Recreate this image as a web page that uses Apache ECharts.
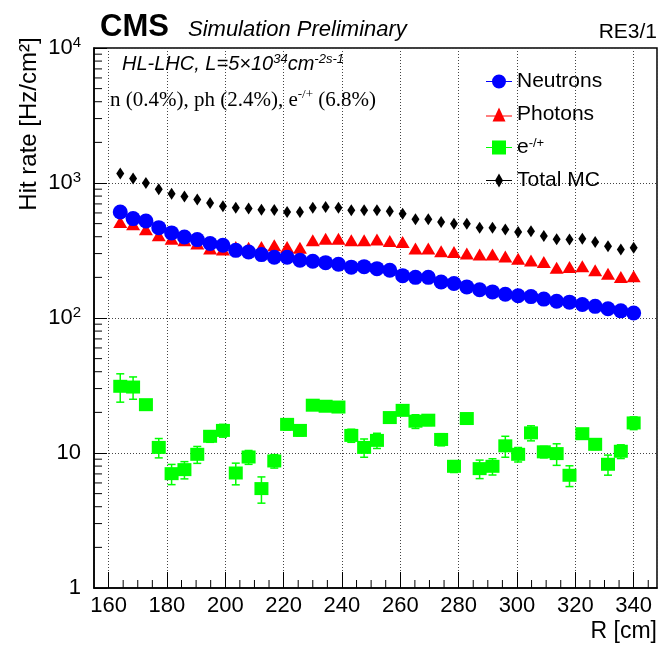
<!DOCTYPE html>
<html><head><meta charset="utf-8">
<script src="https://cdn.jsdelivr.net/npm/echarts@6/dist/echarts.min.js"></script>
<style>html,body{margin:0;padding:0;background:#fff}#c{width:660px;height:647px}</style>
</head><body><div id="c"></div><script>
// ---- data ----
const radiusCm = [164.0,168.4,172.8,177.2,181.6,186.0,190.4,194.8,199.2,203.6,208.0,212.4,216.8,221.2,225.6,230.0,234.4,238.8,243.2,247.6,252.0,256.4,260.8,265.2,269.6,274.0,278.4,282.8,287.2,291.6,296.0,300.4,304.8,309.2,313.6,318.0,322.4,326.8,331.2,335.6,340.0];
const neutrons = [610,545,523,467,427,398,381,356,346,317,308,295,282,282,268,263,257,250,238,240,232,226,206,200,200,185,180,170,162,156,150,146,144,138,133,131,126,122,117,113,109];
const photons  = [514,494,454,410,387,376,356,327,321,336,332,336,346,336,332,376,387,387,376,376,381,372,365,327,327,312,308,300,295,295,286,275,267,260,236,239,242,226,213,201,204];
const electrons = [31.2,30.8,22.8,11.0,7.03,7.53,9.78,13.3,14.7,7.11,9.34,5.45,8.73,16.3,14.7,22.6,22.2,21.9,13.5,11.0,12.4,18.3,20.7,17.2,17.5,12.6,7.97,18.0,7.66,7.97,11.3,9.78,14.1,10.2,9.9,6.84,13.9,11.6,8.25,10.3,16.7];
const electronErr = [7.4,5.8,2.0,1.8,1.2,1.1,1.4,1.3,1.6,1.3,1.1,1.2,1.0,1.5,1.3,1.8,1.8,1.8,1.5,1.7,1.6,1.5,1.7,2.0,1.5,1.3,0.8,1.5,1.2,1.1,2.0,1.2,1.8,1.0,1.8,1.2,1.2,1.0,1.4,1.2,1.8];
const totalMC = [1175,1078,1000,898,834,796,756,711,672,657,646,635,632,610,610,657,664,657,628,628,628,617,593,538,538,514,500,500,467,467,452,434,439,405,383,381,387,365,340,321,332];
const seriesNames = ['Neutrons','Photons','e-/+','Total MC'];
const xMajorTicks = [160,180,200,220,240,260,280,300,320,340];
const yDecadeLabels = ['1','10','10²','10³','10⁴'];

const X_MIN = 155, X_MAX = 348, Y_MIN = 1, Y_MAX = 10000;
const FONT = '"Liberation Sans", Arial, Helvetica, sans-serif';
const SERIF = '"Liberation Serif", "Times New Roman", serif';

// minor tick positions (style only)
const xMinor = [];
for (let v = 160; v <= 345; v += 5) if (v % 20 !== 0) xMinor.push(v);
const yMinor = [];
for (let d = 1; d <= 1000; d *= 10) for (let m = 2; m <= 9; m++) yMinor.push(m * d);
const tickData = xMinor.map(v => [v, Y_MIN, 0]).concat(yMinor.map(v => [X_MIN, v, 1]));

const chart = echarts.init(document.getElementById('c'), null, {renderer: 'canvas'});

const legendIcons = {
  'Neutrons': 'path://M0,6.5H26V7.5H0Z M13,0A7,7,0,1,1,12.99,0Z',
  'Photons': 'path://M0,8H26V9H0Z M13,0L19.5,14H6.5Z',
  'e-/+': 'path://M0,6.5H26V7.5H0Z M6,0H20V14H6Z',
  'Total MC': 'path://M0,6.5H26V7.5H0Z M13,0L17,7L13,14L9,7Z'
};

chart.setOption({
  animation: false,
  backgroundColor: '#fff',
  grid: {left: 94, right: 3, top: 48, bottom: 59, show: true, borderColor: '#000', borderWidth: 1.5, containLabel: false},
  xAxis: {
    type: 'value', min: X_MIN, max: X_MAX, splitNumber: 10,
    axisLine: {show: true, lineStyle: {color: '#000', width: 1.5}},
    axisTick: {show: true, inside: true, length: 16, lineStyle: {color: '#000', width: 1}},
    splitLine: {show: true, lineStyle: {type: [1, 2], color: '#444', width: 1}},
    axisLabel: {
      showMinLabel: false, showMaxLabel: false, color: '#000', fontFamily: FONT, fontSize: 22, margin: 7,
      formatter: v => (xMajorTicks.indexOf(Math.round(v)) >= 0 ? String(Math.round(v)) : '')
    }
  },
  yAxis: {
    type: 'log', logBase: 10, min: Y_MIN, max: Y_MAX,
    axisLine: {show: true, lineStyle: {color: '#000', width: 1.5}},
    axisTick: {show: true, inside: true, length: 13, lineStyle: {color: '#000', width: 1}},
    splitLine: {show: true, lineStyle: {type: [1, 2], color: '#444', width: 1}},
    axisLabel: {
      margin: 13, color: '#000',
      formatter: v => {
        const e = Math.round(Math.log10(v));
        if (e === 0) return '{b|' + yDecadeLabels[0] + '}';
        if (e === 1) return '{b|' + yDecadeLabels[1] + '}';
        return '{b|10}{s|' + e + '}';
      },
      rich: {
        b: {fontFamily: FONT, fontSize: 22, color: '#000', lineHeight: 26},
        s: {fontFamily: FONT, fontSize: 15, color: '#000', verticalAlign: 'top', lineHeight: 15}
      }
    }
  },
  legend: {
    orient: 'vertical', left: 486, top: 71, padding: 0, itemWidth: 26, itemHeight: 14, itemGap: 12, itemTextGap: 5,
    selectedMode: false,
    data: seriesNames.map(n => ({name: n, icon: legendIcons[n]})),
    formatter: n => n === 'e-/+' ? '{t|e}{s|-/+}' : '{t|' + n + '}',
    textStyle: {
      color: '#000', fontFamily: FONT, fontSize: 21, lineHeight: 21,
      rich: {
        t: {fontFamily: FONT, fontSize: 21, color: '#000', lineHeight: 21},
        s: {fontFamily: FONT, fontSize: 13, color: '#000', verticalAlign: 'top', lineHeight: 13}
      }
    }
  },
  series: [
    {
      name: 'ticks', type: 'custom', silent: true, clip: false, z: 1,
      data: tickData,
      renderItem: (params, api) => {
        const p = api.coord([api.value(0), api.value(1)]);
        const horiz = api.value(2) === 1;
        return {
          type: 'line',
          shape: horiz ? {x1: p[0], y1: p[1], x2: p[0] + 8, y2: p[1]} : {x1: p[0], y1: p[1], x2: p[0], y2: p[1] - 8},
          style: {stroke: '#000', lineWidth: 1}
        };
      }
    },
    {
      name: 'e-/+ err', type: 'custom', silent: true, z: 2,
      data: radiusCm.map((x, i) => [x, electrons[i] - electronErr[i], electrons[i] + electronErr[i]]),
      renderItem: (params, api) => {
        const lo = api.coord([api.value(0), api.value(1)]);
        const hi = api.coord([api.value(0), api.value(2)]);
        const st = {stroke: '#00ff00', lineWidth: 1.5};
        return {type: 'group', children: [
          {type: 'line', shape: {x1: lo[0], y1: lo[1], x2: hi[0], y2: hi[1]}, style: st},
          {type: 'line', shape: {x1: lo[0] - 4, y1: lo[1], x2: lo[0] + 4, y2: lo[1]}, style: st},
          {type: 'line', shape: {x1: hi[0] - 4, y1: hi[1], x2: hi[0] + 4, y2: hi[1]}, style: st}
        ]};
      }
    },
    {name: 'Photons', type: 'scatter', symbol: 'triangle', symbolSize: [14, 12], z: 3,
      itemStyle: {color: '#ff0000', opacity: 1}, data: radiusCm.map((x, i) => [x, photons[i]])},
    {name: 'Neutrons', type: 'scatter', symbol: 'circle', symbolSize: 15, z: 4,
      itemStyle: {color: '#0000ff', opacity: 1}, data: radiusCm.map((x, i) => [x, neutrons[i]])},
    {name: 'e-/+', type: 'scatter', symbol: 'rect', symbolSize: [14, 13], z: 3,
      itemStyle: {color: '#00ff00', opacity: 1}, data: radiusCm.map((x, i) => [x, electrons[i]])},
    {name: 'Total MC', type: 'scatter', symbol: 'diamond', symbolSize: [8, 12], z: 4,
      itemStyle: {color: '#000', opacity: 1}, data: radiusCm.map((x, i) => [x, totalMC[i]])}
  ],
  graphic: [
    {type: 'text', x: 100, y: 27, style: {text: 'CMS', font: 'bold 31px ' + FONT, fill: '#000', textVerticalAlign: 'middle'}},
    {type: 'text', x: 188, y: 30, style: {text: 'Simulation Preliminary', font: 'italic 22px ' + FONT, fill: '#000', textVerticalAlign: 'middle'}},
    {type: 'text', x: 657, y: 32, style: {text: 'RE3/1', font: '21px ' + FONT, fill: '#000', textAlign: 'right', textVerticalAlign: 'middle'}},
    {type: 'text', x: 122, y: 64, z: 10, style: {
      text: '{i|HL-LHC, L=5×10}{s|34}{i|cm}{s|-2s-1}',
      textVerticalAlign: 'middle',
      rich: {
        i: {fontFamily: FONT, fontStyle: 'italic', fontSize: 20, fill: '#000', color: '#000', lineHeight: 22},
        s: {fontFamily: FONT, fontStyle: 'italic', fontSize: 13, fill: '#000', color: '#000', verticalAlign: 'top', lineHeight: 13}
      }}},
    {type: 'text', x: 110, y: 100, z: 10, style: {
      text: '{r|n (0.4%), ph (2.4%), e}{s|-/+}{r| (6.8%)}',
      textVerticalAlign: 'middle',
      rich: {
        r: {fontFamily: SERIF, fontSize: 21, fill: '#000', color: '#000', lineHeight: 23},
        s: {fontFamily: SERIF, fontSize: 13, fill: '#000', color: '#000', verticalAlign: 'top', lineHeight: 13}
      }}},
    {type: 'text', x: 29, y: 124, rotation: Math.PI / 2, style: {text: 'Hit rate [Hz/cm²]', font: '24px ' + FONT, fill: '#000', textAlign: 'center', textVerticalAlign: 'middle'}},
    {type: 'text', x: 657, y: 632, style: {text: 'R [cm]', font: '23px ' + FONT, fill: '#000', textAlign: 'right', textVerticalAlign: 'middle'}}
  ]
});
</script></body></html>
